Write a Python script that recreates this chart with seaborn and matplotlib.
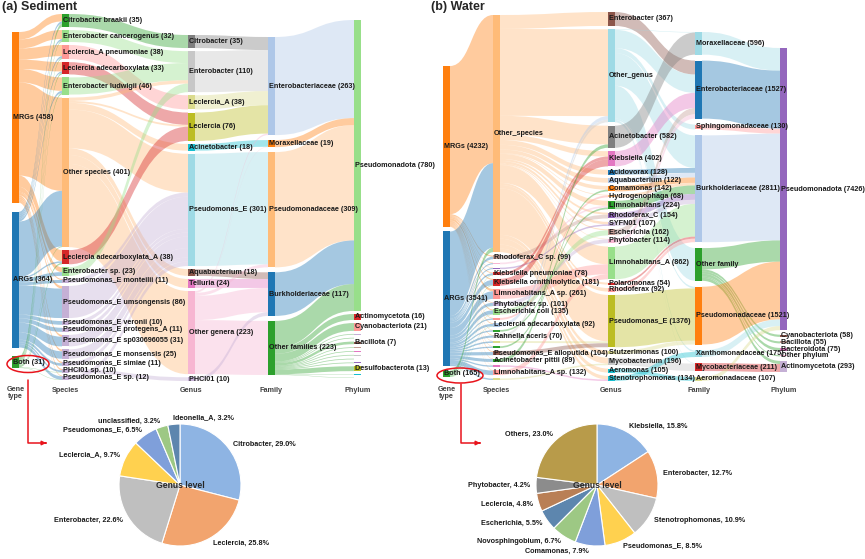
import matplotlib
matplotlib.use("Agg")
import matplotlib.pyplot as plt
from matplotlib.patches import Rectangle, PathPatch, Ellipse
from matplotlib.path import Path
import seaborn as sns

sns.set_theme(style="white")
plt.rcParams['font.family'] = ['Liberation Sans', 'DejaVu Sans']

# tab20 = d3 category20 used by the sankey
tab = sns.color_palette("tab20").as_hex()

# ---------------- (a) Sediment ----------------
sed_gene = ["MRGs (458)", "ARGs (364)", "Both (31)"]
sed_gene_col = [2, 0, 4]

sed_species = ["Citrobacter braakii (35)", "Enterobacter cancerogenus (32)", "Leclercia_A pneumoniae (38)",
               "Leclercia adecarboxylata (33)", "Enterobacter ludwigii (46)", "Other species (401)",
               "Leclercia adecarboxylata_A (38)", "Enterobacter sp. (23)", "Pseudomonas_E monteilii (11)",
               "Pseudomonas_E umsongensis (86)", "Pseudomonas_E veronii (10)", "Pseudomonas_E protegens_A (11)",
               "Pseudomonas_E sp030696055 (31)", "Pseudomonas_E monsensis (25)", "Pseudomonas_E simiae (11)",
               "PHCI01 sp. (10)", "Pseudomonas_E sp. (12)"]
sed_species_col = [4, 5, 7, 6, 5, 3, 6, 5, 9, 9, 9, 9, 9, 9, 9, 9, 9]
sed_mrg_to_species = [20, 24, 30, 25, 36, 250, 30, 13, 3, 7, 0, 0, 5, 5, 4, 4, 2]
sed_arg_to_species = [6, 5, 5, 4, 6, 149, 4, 10, 8, 79, 10, 11, 26, 20, 7, 5, 9]
sed_both_to_species = [9, 3, 3, 4, 4, 2, 4, 0, 0, 0, 0, 0, 0, 0, 0, 1, 1]

sed_genus = ["Citrobacter (35)", "Enterobacter (110)", "Leclercia_A (38)", "Leclercia (76)",
             "Acinetobacter (18)", "Pseudomonas_E (301)", "Aquabacterium (18)", "Telluria (24)",
             "Other genera (223)", "PHCI01 (10)"]
sed_genus_col = [14, 15, 17, 16, 18, 19, 10, 12, 13, 9]
sed_species_genus = [0, 1, 2, 3, 1, -1, 3, 1, 5, 5, 5, 5, 5, 5, 5, 9, 5]   # -1: split below
sed_other_species_to_genus = [0, 9, 0, 5, 18, 104, 18, 24, 223, 0]

sed_family = ["Enterobacteriaceae (263)", "Moraxellaceae (19)", "Pseudomonadaceae (309)",
              "Burkholderiaceae (117)", "Other families (223)"]
sed_family_col = [1, 2, 3, 0, 4]
sed_genus_family = [0, 0, 0, 0, 1, 2, 3, 3, -1, 3]
sed_other_genera_to_family = [4, 1, 8, 65, 145]

sed_phylum = ["Pseudomonadota (780)", "Actinomycetota (16)", "Cyanobacteriota (21)", "", "",
              "Bacillota (7)", "", "", "", "", "", "Desulfobacterota (13)", "", ""]
sed_phylum_col = [5, 6, 7, 9, 13, 10, 11, 12, 15, 19, 8, 16, 18, 14]
sed_family_phylum = [0, 0, 0, 0, -1]
sed_other_families_to_phylum = [72, 16, 21, 2, 2, 7, 2, 2, 2, 2, 2, 13, 1, 1]

# ---------------- (b) Water ----------------
wat_gene = ["MRGs (4232)", "ARGs (3541)", "Both (165)"]
wat_gene_col = [2, 0, 4]

wat_species = ["Other_species", "Rhodoferax_C sp. (99)", "", "", "Klebsiella pneumoniae (78)",
               "Klebsiella ornithinolytica (181)", "Limnohabitans_A sp. (261)", "Phytobacter sp. (101)",
               "Escherichia coli (135)", "", "Leclercia adecarboxylata (92)", "", "Rahnella aceris (70)",
               "", "", "Pseudomonas_E alloputida (104)", "Acinetobacter pittii (89)", "",
               "Limnohabitans_A sp. (132)", ""]
wat_species_col = [3, 11, 13, 8, 6, 6, 7, 9, 5, 7, 1, 4, 15, 17, 4, 10, 4, 12, 7, 17]
wat_mrg_to_species = [3900, 30, 15, 10, 20, 30, 60, 15, 25, 15, 20, 10, 15, 10, 10, 20, 10, 5, 10, 2]
wat_arg_to_species = [2226, 69, 30, 30, 47, 136, 201, 79, 101, 35, 64, 35, 55, 40, 35, 84, 79, 35, 122, 38]
wat_both_to_species = [115, 0, 0, 0, 11, 15, 0, 7, 9, 0, 8, 0, 0, 0, 0, 0, 0, 0, 0, 0]

wat_genus = ["Enterobacter (367)", "Other_genus", "Acinetobacter (582)", "Klebsiella (402)",
             "Acidovorax (128)", "Aquabacterium (122)", "Comamonas (142)", "Hydrogenophaga (68)",
             "Limnohabitans (224)", "Rhodoferax_C (154)", "SYFN01 (107)", "Escherichia (162)",
             "Phytobacter (114)", "Limnohabitans_A (862)", "Polaromonas (54)", "Rhodoferax (92)",
             "Pseudomonas_E (1376)", "Stutzerimonas (100)", "Mycobacterium (196)", "Aeromonas (105)",
             "Stenotrophomonas (134)"]
wat_genus_col = [10, 19, 14, 12, 0, 1, 2, 3, 4, 8, 9, 11, 13, 5, 6, 7, 16, 17, 15, 18, 18]
wat_species_genus = [-1, 9, 8, 10, 3, 3, 13, 12, 11, 7, 1, 8, 1, 16, 6, 16, 2, 20, 13, 18]
wat_other_species_to_genus = [367, 2285, 493, 143, 128, 122, 97, 18, 134, 55, 67, 27, 13,
                              469, 54, 92, 1222, 100, 156, 105, 94]

wat_family = ["Moraxellaceae (596)", "Enterobacteriaceae (1527)", "Sphingomonadaceae (130)",
              "Burkholderiaceae (2811)", "Other family", "Pseudomonadaceae (1521)",
              "Xanthomonadaceae (175)", "Mycobacteriaceae (211)", "Aeromonadaceae (107)"]
wat_family_col = [19, 0, 7, 1, 4, 2, 19, 6, 17]
wat_genus_family = [1, -1, 0, 1, 3, 3, 3, 3, 3, 3, 3, 1, 1, 3, 3, 3, 5, 5, 7, 8, 6]
wat_other_genus_to_family = [14, 482, 130, 858, 860, 45, 41, 15, 2]

wat_phylum = ["Pseudomonadota (7426)", "Cyanobacteriota (58)", "Bacillota (55)", "Bacteroidota (75)",
              "Other phylum", "Actinomycetota (293)"]
wat_phylum_col = [8, 10, 11, 12, 13, 9]
wat_family_phylum = [0, 0, 0, 0, -1, 0, 0, 5, 0]
wat_other_family_to_phylum = [559, 58, 55, 75, 31, 82]

# ---------------- pies (Both, genus level) ----------------
sed_pie_labels = ["Citrobacter", "Leclercia", "Enterobacter", "Leclercia_A", "Pseudomonas_E",
                  "unclassified", "Ideonella_A"]
sed_pie_pct = [29.0, 25.8, 22.6, 9.7, 6.5, 3.2, 3.2]
wat_pie_labels = ["Klebsiella", "Enterobacter", "Stenotrophomonas", "Pseudomonas_E", "Comamonas",
                  "Novosphingobium", "Escherichia", "Leclercia", "Phytobacter", "Others"]
wat_pie_pct = [15.8, 12.7, 10.9, 8.5, 7.9, 6.7, 5.5, 4.8, 4.2, 23.0]
pie_colors = ["#8EB4E3", "#F2A46E", "#BFBFBF", "#FFD14F", "#7F9FDA", "#9DC884", "#5D86AE",
              "#B97F55", "#8C8C8C", "#B89B4A"]

FS = 5.2
codes = [Path.MOVETO, Path.CURVE4, Path.CURVE4, Path.CURVE4, Path.LINETO,
         Path.CURVE4, Path.CURVE4, Path.CURVE4, Path.CLOSEPOLY]


def fan(rows):
    return [(i, j, v) for i, row in enumerate(rows) for j, v in enumerate(row) if v > 0]


def inflow(links, n):
    tot = [0] * n
    for s, t, v in links:
        tot[t] += v
    return tot


def route(mapping, sizes, split_row):
    links = []
    for i, t in enumerate(mapping):
        if t >= 0:
            links.append((i, t, sizes[i]))
        else:
            links += [(i, j, v) for j, v in enumerate(split_row) if v > 0]
    return links


def sankey(ax, cols, stages, xs, tops, bots, ky, w=7):
    vin = [[0] * len(c[0]) for c in cols]
    vout = [[0] * len(c[0]) for c in cols]
    for c, links in enumerate(stages):
        for s, t, v in links:
            vout[c][s] += v
            vin[c + 1][t] += v
    nodes = []
    for c, (labels, colors) in enumerate(cols):
        vals = [max(a, b) for a, b in zip(vin[c], vout[c])]
        gap = (bots[c] - tops[c] - sum(vals) * ky) / (len(vals) - 1)
        y = tops[c]
        col = []
        for v in vals:
            col.append((y, y + v * ky))
            y += v * ky + gap
        nodes.append(col)

    mid = lambda n: (n[0] + n[1]) / 2
    for c, links in enumerate(stages):
        src, tgt = nodes[c], nodes[c + 1]
        so, to = {}, {}
        off = [n[0] for n in src]
        for k in sorted(range(len(links)), key=lambda k: (links[k][0], mid(tgt[links[k][1]]))):
            so[k] = off[links[k][0]]
            off[links[k][0]] += links[k][2] * ky
        off = [n[0] for n in tgt]
        for k in sorted(range(len(links)), key=lambda k: (links[k][1], mid(src[links[k][0]]))):
            to[k] = off[links[k][1]]
            off[links[k][1]] += links[k][2] * ky
        x0, x1 = xs[c] + w, xs[c + 1]
        xm = (x0 + x1) / 2
        for k, (s, t, v) in enumerate(links):
            h = v * ky
            a, b = so[k], to[k]
            verts = [(x0, a), (xm, a), (xm, b), (x1, b), (x1, b + h), (xm, b + h), (xm, a + h),
                     (x0, a + h), (x0, a)]
            ax.add_patch(PathPatch(Path(verts, codes), fc=cols[c][1][s], alpha=0.4, lw=0))

    for c, (labels, colors) in enumerate(cols):
        for (y0, y1), lab, colr in zip(nodes[c], labels, colors):
            ax.add_patch(Rectangle((xs[c], y0), w, y1 - y0, fc=colr, lw=0))
            if lab:
                ax.text(xs[c] + 1, (y0 + y1) / 2, lab, fontsize=FS, fontweight='bold',
                        va='center', ha='left', color='#1a1a1a')


def build(gene, gene_col, species, species_col, g2s, genus, genus_col, s_map, s_split,
          family, family_col, g_map, g_split, phylum, phylum_col, f_map, f_split):
    st1 = fan(g2s)
    st2 = route(s_map, inflow(st1, len(species)), s_split)
    st3 = route(g_map, inflow(st2, len(genus)), g_split)
    st4 = route(f_map, inflow(st3, len(family)), f_split)
    cols = [(gene, [tab[i] for i in gene_col]),
            (species, [tab[i] for i in species_col]),
            (genus, [tab[i] for i in genus_col]),
            (family, [tab[i] for i in family_col]),
            (phylum, [tab[i] for i in phylum_col])]
    return cols, [st1, st2, st3, st4]


fig = plt.figure(figsize=(8.65, 5.59), dpi=100)
ax = fig.add_axes([0, 0, 1, 1])
ax.set_xlim(0, 865)
ax.set_ylim(559, 0)
ax.axis('off')

cols, stages = build(sed_gene, sed_gene_col, sed_species, sed_species_col,
                     [sed_mrg_to_species, sed_arg_to_species, sed_both_to_species],
                     sed_genus, sed_genus_col, sed_species_genus, sed_other_species_to_genus,
                     sed_family, sed_family_col, sed_genus_family, sed_other_genera_to_family,
                     sed_phylum, sed_phylum_col, sed_family_phylum, sed_other_families_to_phylum)
sed_x = [12, 62, 188, 268, 354]
sankey(ax, cols, stages, sed_x, [32, 14, 35, 37, 20], [368, 380, 381, 375, 378], 0.373)

cols, stages = build(wat_gene, wat_gene_col, wat_species, wat_species_col,
                     [wat_mrg_to_species, wat_arg_to_species, wat_both_to_species],
                     wat_genus, wat_genus_col, wat_species_genus, wat_other_species_to_genus,
                     wat_family, wat_family_col, wat_genus_family, wat_other_genus_to_family,
                     wat_phylum, wat_phylum_col, wat_family_phylum, wat_other_family_to_phylum)
wat_x = [443, 493, 608, 695, 780]
sankey(ax, cols, stages, wat_x, [66, 15, 12, 32, 48], [377, 380, 381, 381, 372], 0.038)

# titles and column headers
ax.text(2, 7, "(a) Sediment", fontsize=9, fontweight='bold', va='center', ha='left')
ax.text(431, 7, "(b) Water", fontsize=9, fontweight='bold', va='center', ha='left')
heads = ["Gene\ntype", "Species", "Genus", "Family", "Phylum"]
for xs in (sed_x, wat_x):
    for i, (x, h) in enumerate(zip(xs, heads)):
        ax.text(x + 3.5, 386 if i == 0 else 391, h, fontsize=FS, fontweight='bold', color='#404040',
                ha='center', va='top' if i == 0 else 'center', linespacing=1.1)

# red highlight of "Both" + arrow to pie
for (ex, ey, ew, eh), (lx, ly0, ly1, lx1) in [((28, 364, 42, 17), (28, 380, 443, 49)),
                                               ((460, 375.5, 46, 15), (461, 384, 443, 483))]:
    ax.add_patch(Ellipse((ex, ey), ew, eh, fill=False, ec='#e8141c', lw=1.1))
    ax.plot([lx, lx, lx1 - 5], [ly0, ly1, ly1], color='#e8141c', lw=1.1)
    ax.annotate("", xy=(lx1, ly1), xytext=(lx1 - 6, ly1),
                arrowprops=dict(arrowstyle='-|>', color='#e8141c', lw=1.1, mutation_scale=6))

# pies
R, L = 61, 1.4
for (cx, cy), labels, pct in [((180, 485), sed_pie_labels, sed_pie_pct),
                              ((597, 485), wat_pie_labels, wat_pie_pct)]:
    pax = fig.add_axes([(cx - L * R) / 865, (559 - cy - L * R) / 559, 2 * L * R / 865, 2 * L * R / 559])
    wedges, texts = pax.pie(pct, labels=[f"{n}, {p:.1f}%" for n, p in zip(labels, pct)],
                            colors=pie_colors[:len(pct)], startangle=90, counterclock=False,
                            labeldistance=1.1,
                            wedgeprops=dict(edgecolor='white', linewidth=0.8),
                            textprops=dict(fontsize=FS, fontweight='bold', color='#1a1a1a'))
    if labels is sed_pie_labels:
        texts[-1].set_ha('left')
    pax.text(0, 0, "Genus level", ha='center', va='center', fontsize=6.2, fontweight='bold')
    pax.set_xlim(-L, L)
    pax.set_ylim(-L, L)
    pax.set_aspect('equal')
    pax.axis('off')

fig.savefig("out.png", dpi=100)
